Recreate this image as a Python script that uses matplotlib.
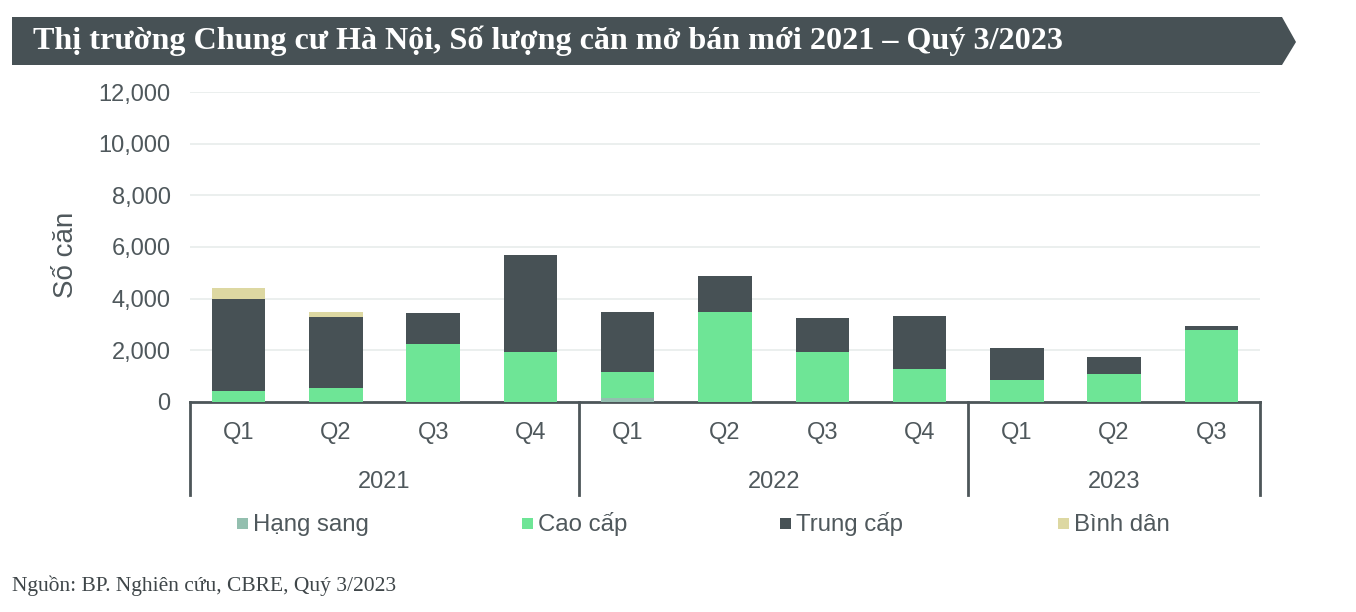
import matplotlib
matplotlib.use("Agg")
import matplotlib.pyplot as plt
from matplotlib.patches import Polygon, Rectangle
from matplotlib.lines import Line2D
import numpy as np

# ---- data ----
quarters = ["Q1", "Q2", "Q3", "Q4", "Q1", "Q2", "Q3", "Q4", "Q1", "Q2", "Q3"]
years = ["2021", "2022", "2023"]
year_counts = [4, 4, 3]
hang_sang = [0, 0, 0, 0, 150, 0, 0, 0, 0, 0, 0]
cao_cap = [430, 530, 2250, 1940, 1020, 3480, 1925, 1280, 850, 1070, 2790]
trung_cap = [3550, 2770, 1180, 3750, 2300, 1410, 1340, 2040, 1230, 690, 170]
binh_dan = [420, 180, 0, 0, 0, 0, 0, 0, 0, 0, 0]
series_names = ["Hạng sang", "Cao cấp", "Trung cấp", "Bình dân"]
yticks = [0, 2000, 4000, 6000, 8000, 10000, 12000]

colors = ["#93BFAF", "#6EE596", "#475155", "#DDD8A2"]
text_col = "#4F585C"

plt.rcParams["font.family"] = ["Liberation Sans", "DejaVu Sans"]

W, H = 1356, 612
fig = plt.figure(figsize=(W / 100, H / 100), dpi=100)

# title banner
banner = Polygon([[12 / W, 1 - 17 / H], [1282 / W, 1 - 17 / H], [1296 / W, 1 - 42 / H],
                  [1282 / W, 1 - 65 / H], [12 / W, 1 - 65 / H]], closed=True,
                 transform=fig.transFigure, facecolor="#475155", edgecolor="none")
fig.patches.append(banner)
fig.text(33 / W, 1 - 41 / H, "Thị trường Chung cư Hà Nội, Số lượng căn mở bán mới 2021 – Quý 3/2023",
         color="white", fontsize=23.1, fontweight="bold", family="Liberation Serif",
         va="center", ha="left")

ax = fig.add_axes([190 / W, 1 - 402 / H, (1260 - 190) / W, (402 - 92) / H])
x = np.arange(len(quarters))
bw = 0.55
bottom = np.zeros(len(quarters))
for name, vals, c in zip(series_names, [hang_sang, cao_cap, trung_cap, binh_dan], colors):
    vals = np.array(vals, dtype=float)
    ax.bar(x, vals, bw, bottom=bottom, color=c, label=name, zorder=3)
    bottom += vals

ax.set_xlim(-0.5, len(quarters) - 0.5)
ax.set_ylim(0, 12000)
ax.set_yticks(yticks)
ax.set_yticklabels([f"{v:,}" for v in yticks])
ax.tick_params(axis="y", length=0, labelsize=17, labelcolor=text_col, pad=14)
ax.set_xticks([])
ax.grid(axis="y", color="#E8ECEB", linewidth=1.2, zorder=0)
for s in ["left", "right", "top"]:
    ax.spines[s].set_visible(False)
ax.spines["bottom"].set_color("#4D5659")
ax.spines["bottom"].set_linewidth(2)
ax.set_ylabel("Số căn", fontsize=20, color=text_col)
ax.yaxis.set_label_coords((79 - 190) / 1070, (402 - 255) / 310)

# category labels
qy = -31 / (402 - 92)
yy = -80 / (402 - 92)
trans = ax.get_xaxis_transform()
for xi, q in zip(x, quarters):
    ax.text(xi, qy, q, transform=trans, ha="center", va="center", fontsize=17, color=text_col)
start = 0
bounds = [-0.5]
for yname, n in zip(years, year_counts):
    ax.text(start + (n - 1) / 2, yy, yname, transform=trans, ha="center", va="center",
            fontsize=17, color=text_col)
    start += n
    bounds.append(start - 0.5)
sep_bottom = -93 / (402 - 92)
for b in bounds:
    ax.add_line(Line2D([b, b], [0, sep_bottom], transform=trans, color="#4D5659",
                       linewidth=2, clip_on=False))

# legend (square marker + text at reference positions)
leg_x = [237, 522, 780, 1058]
for name, c, lx in zip(series_names, colors, leg_x):
    fig.patches.append(Rectangle((lx / W, 1 - 529 / H), 11 / W, 11 / H,
                                 transform=fig.transFigure, facecolor=c, edgecolor="none"))
    fig.text((lx + 16) / W, 1 - 531 / H, name, fontsize=17.3, color=text_col,
             ha="left", va="baseline")

fig.text(12 / W, 1 - 586 / H, "Nguồn: BP. Nghiên cứu, CBRE, Quý 3/2023", fontsize=15.5,
         family="Liberation Serif", color="#3F4649", va="center", ha="left")

fig.savefig("out.png", dpi=100)
